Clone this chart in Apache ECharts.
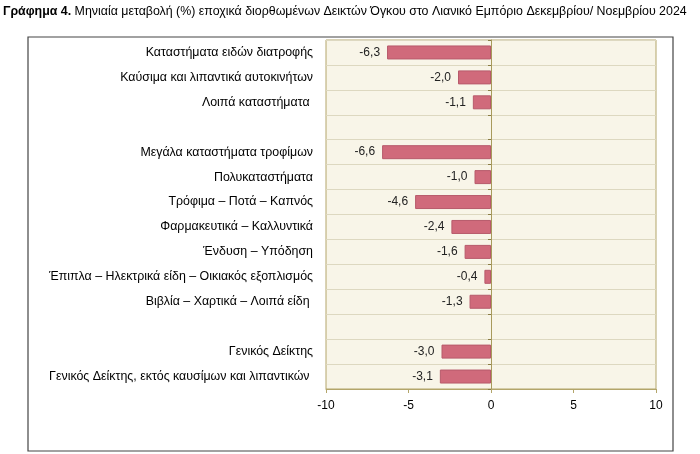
<!DOCTYPE html>
<html><head><meta charset="utf-8">
<script src="https://cdn.jsdelivr.net/npm/echarts@6/dist/echarts.min.js"></script>
<style>html,body{margin:0;padding:0;background:#fff}#c{width:700px;height:454px}</style>
</head><body><div id="c"></div>
<script>
const categories = [
  'Καταστήματα ειδών διατροφής',
  'Καύσιμα και λιπαντικά αυτοκινήτων',
  'Λοιπά καταστήματα ',
  ' ',
  'Μεγάλα καταστήματα τροφίμων',
  'Πολυκαταστήματα',
  'Τρόφιμα – Ποτά – Καπνός',
  'Φαρμακευτικά – Καλλυντικά',
  'Ένδυση – Υπόδηση',
  'Έπιπλα – Ηλεκτρικά είδη – Οικιακός εξοπλισμός',
  'Βιβλία – Χαρτικά – Λοιπά είδη ',
  '  ',
  'Γενικός Δείκτης',
  'Γενικός Δείκτης, εκτός καυσίμων και λιπαντικών '
];
const values = [-6.3, -2.0, -1.1, null, -6.6, -1.0, -4.6, -2.4, -1.6, -0.4, -1.3, null, -3.0, -3.1];
const xTicks = [-10, -5, 0, 5, 10];
const titleBold = 'Γράφημα 4.';
const titleRest = ' Μηνιαία μεταβολή (%) εποχικά διορθωμένων Δεικτών Όγκου στο Λιανικό Εμπόριο Δεκεμβρίου/ Νοεμβρίου 2024';

const FONT = 'Liberation Sans';
const chart = echarts.init(document.getElementById('c'), null, {renderer: 'canvas'});
chart.setOption({
  animation: false,
  textStyle: {fontFamily: FONT},
  graphic: [
    {type: 'rect', shape: {x: 28, y: 37, width: 645, height: 414}, style: {fill: 'none', stroke: '#444', lineWidth: 1.2}, z: -10},
    {type: 'text', left: 3, top: 6, style: {
      text: '{b|' + titleBold + '}{n|' + titleRest + '}',
      rich: {b: {fontWeight: 'bold', fontSize: 12.4, fontFamily: FONT, fill: '#000'}, n: {fontSize: 12.4, fontFamily: FONT, fill: '#000'}}
    }}
  ],
  grid: {left: 326, right: 44, top: 40, bottom: 65, show: true, backgroundColor: '#f8f5e8', borderColor: '#b3a56a', borderWidth: 1},
  xAxis: {
    type: 'value', min: xTicks[0], max: xTicks[xTicks.length - 1], interval: 5,
    axisLine: {show: true, lineStyle: {color: '#b3a56a'}},
    axisTick: {show: true, length: 4, lineStyle: {color: '#b3a56a'}},
    axisLabel: {color: '#000', fontSize: 12, margin: 11, fontFamily: FONT},
    splitLine: {show: false}
  },
  yAxis: [
    {
      type: 'category', data: categories, inverse: true,
      axisLine: {show: false, onZero: false}, axisTick: {show: false},
      axisLabel: {color: '#000', fontSize: 12.4, margin: 13, fontFamily: FONT},
      splitLine: {show: true, lineStyle: {color: '#ddd8c0', width: 1}}
    },
    {
      type: 'category', data: categories, inverse: true, position: 'left',
      axisLine: {show: true, onZero: true, onZeroAxisIndex: 0, lineStyle: {color: '#a89a5c', width: 1}},
      axisTick: {show: true, length: 3, lineStyle: {color: '#8a7d45'}},
      axisLabel: {show: false}, splitLine: {show: false}
    }
  ],
  series: [{
    type: 'bar', data: values, yAxisIndex: 0, barWidth: 14, z: 3,
    itemStyle: {color: '#d06a7b', borderColor: '#b75a6b', borderWidth: 1},
    label: {show: true, position: 'left', distance: 7, color: '#222', fontSize: 12, fontFamily: FONT,
      formatter: p => p.value == null ? '' : p.value.toFixed(1).replace('.', ',')}
  }]
});
</script></body></html>
